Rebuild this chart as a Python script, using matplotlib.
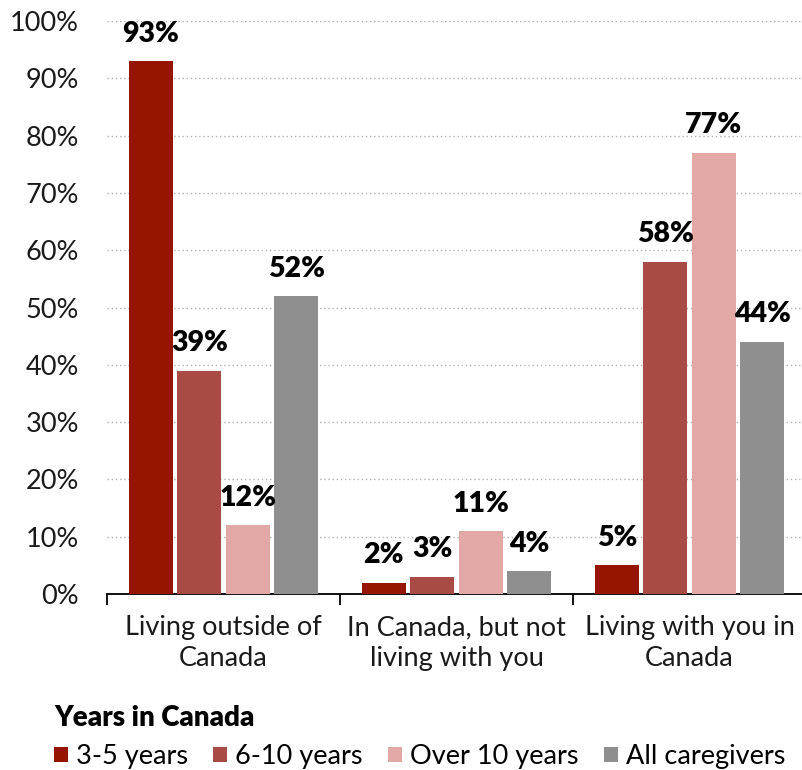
import matplotlib
matplotlib.use("Agg")
import matplotlib.pyplot as plt
from matplotlib.patches import Patch
import numpy as np

categories = ["Living outside of\nCanada", "In Canada, but not\nliving with you", "Living with you in\nCanada"]
series_names = ["3-5 years", "6-10 years", "Over 10 years", "All caregivers"]
values_3_5 = [93, 2, 5]
values_6_10 = [39, 3, 58]
values_over_10 = [12, 11, 77]
values_all = [52, 4, 44]
y_ticks = [0, 10, 20, 30, 40, 50, 60, 70, 80, 90, 100]
colors = ["#951500", "#a84b45", "#e2a8a6", "#8f8f8f"]

plt.rcParams["font.family"] = ["Lato", "DejaVu Sans"]

fig = plt.figure(figsize=(8.03, 7.70), dpi=100)
ax = fig.add_axes([107 / 803, 176 / 770, 699 / 803, 573 / 770])

series = [values_3_5, values_6_10, values_over_10, values_all]
x = np.arange(len(categories))
step = 0.208
width = 0.19
for i, (vals, col) in enumerate(zip(series, colors)):
    pos = x + (i - 1.5) * step
    ax.bar(pos, vals, width=width, color=col, zorder=3)
    for p, v in zip(pos, vals):
        ax.annotate(f"{v}%", (p, v), xytext=(0, 14), textcoords="offset points",
                    ha="center", va="baseline", fontsize=20.5, fontweight="heavy",
                    color="#000000", zorder=4)

ax.set_ylim(0, 100)
ax.set_xlim(-0.5, 2.5)
ax.set_yticks(y_ticks)
ax.set_yticklabels([f"{t}%" for t in y_ticks], fontsize=19.5, color="#1a1a1a")
ax.tick_params(axis="y", length=0, pad=20)
ax.yaxis.grid(True, linestyle=(0, (1, 2)), color="#b0b0b0", linewidth=1.0, zorder=0)
ax.set_axisbelow(True)

ax.set_xticks([-0.5, 0.5, 1.5, 2.5])
ax.set_xticklabels([])
ax.set_xticks(x, minor=True)
ax.set_xticklabels(categories, minor=True, fontsize=19.5, color="#1a1a1a", linespacing=1.32)
ax.tick_params(axis="x", which="major", length=8, width=1.3, direction="out", color="#000000")
ax.tick_params(axis="x", which="minor", length=0, pad=15)

for s in ["top", "right", "left"]:
    ax.spines[s].set_visible(False)
ax.spines["bottom"].set_linewidth(1.3)
ax.spines["bottom"].set_color("#000000")

handles = [Patch(facecolor=c, edgecolor="none") for c in colors]
leg = fig.legend(handles, series_names, ncol=4, loc="lower left",
                 bbox_to_anchor=(54 / 803, 1 / 770), frameon=False, fontsize=19.5,
                 title="Years in Canada", title_fontproperties={"size": 20, "weight": "heavy"},
                 alignment="left", handlelength=0.5, handleheight=0.5,
                 handletextpad=0.3, columnspacing=0.95, borderpad=0.0, borderaxespad=0,
                 labelspacing=0.3)
leg._legend_box.sep = 9

fig.savefig("out.png", dpi=100)
